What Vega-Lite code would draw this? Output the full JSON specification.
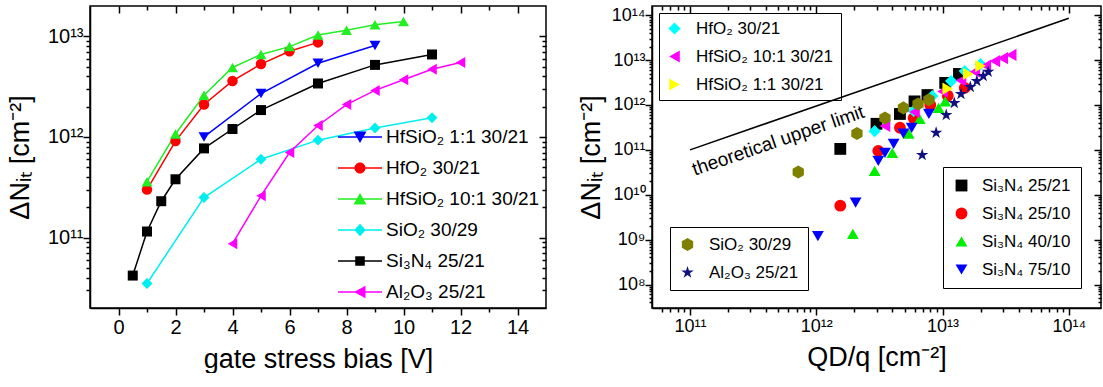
{
  "$schema": "https://vega.github.io/schema/vega-lite/v6.json",
  "background": "white",
  "padding": {"left": 5, "top": 4, "right": 2, "bottom": 0},
  "spacing": 28,
  "config": {
    "font": "Liberation Sans",
    "view": {"stroke": "black", "strokeWidth": 1.5},
    "axis": {
      "grid": false,
      "labelFont": "Liberation Sans",
      "labelColor": "black",
      "labelFontSize": 19,
      "titleFont": "Liberation Sans",
      "titleColor": "black",
      "titleFontSize": 27,
      "titleFontWeight": "normal",
      "domainColor": "black",
      "domainWidth": 1.5,
      "tickColor": "black",
      "tickWidth": 1.5
    },
    "legend": {
      "labelFont": "Liberation Sans",
      "labelColor": "black",
      "labelLimit": 400
    }
  },
  "datasets": {
    "left": [
      {"series": "HfSiO₂ 1:1 30/21", "v": 3, "n": 1.0e12},
      {"series": "HfSiO₂ 1:1 30/21", "v": 5, "n": 2.7e12},
      {"series": "HfSiO₂ 1:1 30/21", "v": 7, "n": 5.4e12},
      {"series": "HfSiO₂ 1:1 30/21", "v": 9, "n": 8.1e12},
      {"series": "HfO₂ 30/21", "v": 1, "n": 3.0e11},
      {"series": "HfO₂ 30/21", "v": 2, "n": 9.1e11},
      {"series": "HfO₂ 30/21", "v": 3, "n": 2.1e12},
      {"series": "HfO₂ 30/21", "v": 4, "n": 3.6e12},
      {"series": "HfO₂ 30/21", "v": 5, "n": 5.3e12},
      {"series": "HfO₂ 30/21", "v": 6, "n": 7.1e12},
      {"series": "HfO₂ 30/21", "v": 7, "n": 8.7e12},
      {"series": "HfSiO₂ 10:1 30/21", "v": 1, "n": 3.6e11},
      {"series": "HfSiO₂ 10:1 30/21", "v": 2, "n": 1.07e12},
      {"series": "HfSiO₂ 10:1 30/21", "v": 3, "n": 2.6e12},
      {"series": "HfSiO₂ 10:1 30/21", "v": 4, "n": 4.9e12},
      {"series": "HfSiO₂ 10:1 30/21", "v": 5, "n": 6.6e12},
      {"series": "HfSiO₂ 10:1 30/21", "v": 6, "n": 7.9e12},
      {"series": "HfSiO₂ 10:1 30/21", "v": 7, "n": 1.03e13},
      {"series": "HfSiO₂ 10:1 30/21", "v": 8, "n": 1.15e13},
      {"series": "HfSiO₂ 10:1 30/21", "v": 9, "n": 1.3e13},
      {"series": "HfSiO₂ 10:1 30/21", "v": 10, "n": 1.4e13},
      {"series": "SiO₂ 30/29", "v": 1, "n": 3.5e10},
      {"series": "SiO₂ 30/29", "v": 3, "n": 2.5e11},
      {"series": "SiO₂ 30/29", "v": 5, "n": 6.0e11},
      {"series": "SiO₂ 30/29", "v": 7, "n": 9.3e11},
      {"series": "SiO₂ 30/29", "v": 9, "n": 1.23e12},
      {"series": "SiO₂ 30/29", "v": 11, "n": 1.55e12},
      {"series": "Si₃N₄ 25/21", "v": 0.5, "n": 4.2e10},
      {"series": "Si₃N₄ 25/21", "v": 1, "n": 1.15e11},
      {"series": "Si₃N₄ 25/21", "v": 1.5, "n": 2.3e11},
      {"series": "Si₃N₄ 25/21", "v": 2, "n": 3.8e11},
      {"series": "Si₃N₄ 25/21", "v": 3, "n": 7.7e11},
      {"series": "Si₃N₄ 25/21", "v": 4, "n": 1.2e12},
      {"series": "Si₃N₄ 25/21", "v": 5, "n": 1.85e12},
      {"series": "Si₃N₄ 25/21", "v": 7, "n": 3.4e12},
      {"series": "Si₃N₄ 25/21", "v": 9, "n": 5.2e12},
      {"series": "Si₃N₄ 25/21", "v": 11, "n": 6.6e12},
      {"series": "Al₂O₃ 25/21", "v": 4, "n": 8.7e10},
      {"series": "Al₂O₃ 25/21", "v": 5, "n": 2.6e11},
      {"series": "Al₂O₃ 25/21", "v": 6, "n": 7.0e11},
      {"series": "Al₂O₃ 25/21", "v": 7, "n": 1.3e12},
      {"series": "Al₂O₃ 25/21", "v": 8, "n": 2.1e12},
      {"series": "Al₂O₃ 25/21", "v": 9, "n": 2.9e12},
      {"series": "Al₂O₃ 25/21", "v": 10, "n": 3.7e12},
      {"series": "Al₂O₃ 25/21", "v": 11, "n": 4.7e12},
      {"series": "Al₂O₃ 25/21", "v": 12, "n": 5.5e12}
    ],
    "rightA": [
      {"series": "Si₃N₄ 25/21", "q": 1.55e12, "n": 1.05e11},
      {"series": "Si₃N₄ 25/21", "q": 3.0e12, "n": 3.8e11},
      {"series": "Si₃N₄ 25/21", "q": 4.6e12, "n": 6.3e11},
      {"series": "Si₃N₄ 25/21", "q": 6.0e12, "n": 1.2e12},
      {"series": "Si₃N₄ 25/21", "q": 7.6e12, "n": 1.66e12},
      {"series": "Si₃N₄ 25/21", "q": 1.05e13, "n": 3.1e12},
      {"series": "Si₃N₄ 25/21", "q": 1.35e13, "n": 4.9e12},
      {"series": "Si₃N₄ 25/10", "q": 1.55e12, "n": 5.7e9},
      {"series": "Si₃N₄ 25/10", "q": 3.1e12, "n": 9.5e10},
      {"series": "Si₃N₄ 25/10", "q": 4.6e12, "n": 3.1e11},
      {"series": "Si₃N₄ 25/10", "q": 5.9e12, "n": 5.1e11},
      {"series": "Si₃N₄ 25/10", "q": 8.0e12, "n": 1.0e12},
      {"series": "Si₃N₄ 25/10", "q": 1.1e13, "n": 1.6e12},
      {"series": "Si₃N₄ 25/10", "q": 1.5e13, "n": 2.4e12},
      {"series": "Si₃N₄ 40/10", "q": 1.95e12, "n": 1.35e9},
      {"series": "Si₃N₄ 40/10", "q": 2.9e12, "n": 3.4e10},
      {"series": "Si₃N₄ 40/10", "q": 4.0e12, "n": 8.6e10},
      {"series": "Si₃N₄ 40/10", "q": 5.4e12, "n": 2.3e11},
      {"series": "Si₃N₄ 40/10", "q": 6.6e12, "n": 4.9e11},
      {"series": "Si₃N₄ 40/10", "q": 9.3e12, "n": 8.6e11},
      {"series": "Si₃N₄ 40/10", "q": 1.05e13, "n": 1.2e12},
      {"series": "Si₃N₄ 75/10", "q": 1.03e12, "n": 1.2e9},
      {"series": "Si₃N₄ 75/10", "q": 2.05e12, "n": 6.7e9},
      {"series": "Si₃N₄ 75/10", "q": 3.1e12, "n": 5.7e10},
      {"series": "Si₃N₄ 75/10", "q": 3.5e12, "n": 8.6e10},
      {"series": "Si₃N₄ 75/10", "q": 4.1e12, "n": 1.35e11},
      {"series": "Si₃N₄ 75/10", "q": 4.9e12, "n": 2.3e11},
      {"series": "Si₃N₄ 75/10", "q": 5.7e12, "n": 3.1e11},
      {"series": "Si₃N₄ 75/10", "q": 7.8e12, "n": 6.3e11}
    ],
    "rightB": [
      {"series": "HfO₂ 30/21", "q": 2.9e12, "n": 2.6e11},
      {"series": "HfO₂ 30/21", "q": 5.9e12, "n": 7.4e11},
      {"series": "HfO₂ 30/21", "q": 8.3e12, "n": 1.58e12},
      {"series": "HfO₂ 30/21", "q": 1.17e13, "n": 3.4e12},
      {"series": "HfO₂ 30/21", "q": 1.5e13, "n": 5.7e12},
      {"series": "HfO₂ 30/21", "q": 2.0e13, "n": 8.1e12},
      {"series": "HfSiO₂ 10:1 30/21", "q": 3.5e12, "n": 3.4e11},
      {"series": "HfSiO₂ 10:1 30/21", "q": 6.0e12, "n": 7.0e11},
      {"series": "HfSiO₂ 10:1 30/21", "q": 1.0e13, "n": 2.0e12},
      {"series": "HfSiO₂ 10:1 30/21", "q": 1.4e13, "n": 3.5e12},
      {"series": "HfSiO₂ 10:1 30/21", "q": 1.8e13, "n": 5.5e12},
      {"series": "HfSiO₂ 10:1 30/21", "q": 2.2e13, "n": 7.5e12},
      {"series": "HfSiO₂ 10:1 30/21", "q": 2.6e13, "n": 9.5e12},
      {"series": "HfSiO₂ 10:1 30/21", "q": 3.0e13, "n": 1.1e13},
      {"series": "HfSiO₂ 10:1 30/21", "q": 3.5e13, "n": 1.3e13},
      {"series": "HfSiO₂ 1:1 30/21", "q": 1.1e13, "n": 2.3e12},
      {"series": "HfSiO₂ 1:1 30/21", "q": 1.6e13, "n": 4.9e12},
      {"series": "HfSiO₂ 1:1 30/21", "q": 2.0e13, "n": 7.4e12}
    ],
    "rightC": [
      {"series": "SiO₂ 30/29", "q": 7.2e11, "n": 3.2e10},
      {"series": "SiO₂ 30/29", "q": 2.1e12, "n": 2.3e11},
      {"series": "SiO₂ 30/29", "q": 3.5e12, "n": 5.1e11},
      {"series": "SiO₂ 30/29", "q": 4.9e12, "n": 8.6e11},
      {"series": "SiO₂ 30/29", "q": 6.4e12, "n": 1.05e12},
      {"series": "SiO₂ 30/29", "q": 7.8e12, "n": 1.3e12},
      {"series": "Al₂O₃ 25/21", "q": 6.9e12, "n": 7.7e10},
      {"series": "Al₂O₃ 25/21", "q": 8.9e12, "n": 2.4e11},
      {"series": "Al₂O₃ 25/21", "q": 1.07e13, "n": 6.0e11},
      {"series": "Al₂O₃ 25/21", "q": 1.24e13, "n": 1.1e12},
      {"series": "Al₂O₃ 25/21", "q": 1.4e13, "n": 1.75e12},
      {"series": "Al₂O₃ 25/21", "q": 1.66e13, "n": 2.5e12},
      {"series": "Al₂O₃ 25/21", "q": 1.87e13, "n": 3.4e12},
      {"series": "Al₂O₃ 25/21", "q": 2.1e13, "n": 4.4e12},
      {"series": "Al₂O₃ 25/21", "q": 2.3e13, "n": 5.5e12}
    ],
    "limit": [
      {"q": 1.0e11, "n": 1.0e11},
      {"q": 1.0e14, "n": 8.5e13}
    ],
    "limitLabel": [
      {"q": 5.0e11, "n": 1.6e11, "label": "theoretical upper limit"}
    ]
  },
  "hconcat": [
    {
      "width": 456,
      "height": 302,
      "layer": [
        {
          "data": {"name": "left"},
          "mark": {"type": "line", "strokeWidth": 1.5},
          "encoding": {
            "x": {"field": "v", "type": "quantitative", "scale": {"domain": [-1, 15], "nice": false, "zero": false},
              "axis": {"orient": "bottom", "title": "gate stress bias [V]", "values": [0,1,2,3,4,5,6,7,8,9,10,11,12,13,14],
                "labelExpr": "datum.value % 2 == 0 ? datum.label : ''",
                "labelFontSize": 20, "labelPadding": 2, "titlePadding": 9,
                "tickSize": {"condition": {"test": "datum.value % 2 == 0", "value": 7}, "value": 4}}},
            "y": {"field": "n", "type": "quantitative", "scale": {"type": "log", "domain": [2e10, 2e13], "nice": false},
              "axis": {"orient": "left", "title": "ΔNᵢₜ [cm⁻²]", "labelFontSize": 20, "labelPadding": 0, "titlePadding": 13,
                "values": [3e10,4e10,5e10,6e10,7e10,8e10,9e10,1e11,2e11,3e11,4e11,5e11,6e11,7e11,8e11,9e11,1e12,2e12,3e12,4e12,5e12,6e12,7e12,8e12,9e12,1e13],
                "labelExpr": "abs(log(datum.value)/LN10 - round(log(datum.value)/LN10)) < 0.01 ? '10' + (round(log(datum.value)/LN10) >= 10 ? '¹' : '') + substring('⁰¹²³⁴⁵⁶⁷⁸⁹', round(log(datum.value)/LN10) % 10, round(log(datum.value)/LN10) % 10 + 1) : ''",
                "tickSize": {"condition": {"test": "abs(log(datum.value)/LN10 - round(log(datum.value)/LN10)) < 0.01", "value": 7}, "value": 4}}},
            "color": {"field": "series", "type": "nominal",
              "scale": {"domain": ["HfSiO₂ 1:1 30/21", "HfO₂ 30/21", "HfSiO₂ 10:1 30/21", "SiO₂ 30/29", "Si₃N₄ 25/21", "Al₂O₃ 25/21"],
                "range": ["#0000ff", "#ff0000", "#22ee22", "#00eeee", "#000000", "#ff00ff"]},
              "legend": null}
          }
        },
        {
          "data": {"name": "left"},
          "mark": {"type": "point", "opacity": 0},
          "encoding": {
            "x": {"field": "v", "type": "quantitative",
              "axis": {"orient": "top", "labels": false, "title": null, "domain": false, "offset": -7, "tickSize": 7, "values": [0,2,4,6,8,10,12,14]}},
            "y": {"field": "n", "type": "quantitative",
              "axis": {"orient": "right", "labels": false, "title": null, "domain": false, "offset": -7, "tickSize": 7, "values": [1e11,1e12,1e13]}}
          }
        },
        {
          "data": {"name": "left"},
          "mark": {"type": "point", "opacity": 0},
          "encoding": {
            "x": {"field": "v", "type": "quantitative",
              "axis": {"orient": "top", "labels": false, "title": null, "domain": false, "offset": -4, "tickSize": 4, "values": [1,3,5,7,9,11,13]}},
            "y": {"field": "n", "type": "quantitative",
              "axis": {"orient": "right", "labels": false, "title": null, "domain": false, "offset": -4, "tickSize": 4,
                "values": [3e10,4e10,5e10,6e10,7e10,8e10,9e10,2e11,3e11,4e11,5e11,6e11,7e11,8e11,9e11,2e12,3e12,4e12,5e12,6e12,7e12,8e12,9e12]}}
          }
        },
        {
          "data": {"name": "left"},
          "transform": [{"filter": "datum.series == 'HfSiO₂ 1:1 30/21'"}],
          "mark": {"type": "point", "filled": true, "opacity": 1, "size": 120, "shape": "triangle-down", "color": "#0000ff"},
          "encoding": {"x": {"field": "v", "type": "quantitative", "axis": null}, "y": {"field": "n", "type": "quantitative", "axis": null}}
        },
        {
          "data": {"name": "left"},
          "transform": [{"filter": "datum.series == 'HfO₂ 30/21'"}],
          "mark": {"type": "point", "filled": true, "opacity": 1, "size": 110, "shape": "circle", "color": "#ff0000"},
          "encoding": {"x": {"field": "v", "type": "quantitative", "axis": null}, "y": {"field": "n", "type": "quantitative", "axis": null}}
        },
        {
          "data": {"name": "left"},
          "transform": [{"filter": "datum.series == 'HfSiO₂ 10:1 30/21'"}],
          "mark": {"type": "point", "filled": true, "opacity": 1, "size": 120, "shape": "triangle-up", "color": "#22ee22"},
          "encoding": {"x": {"field": "v", "type": "quantitative", "axis": null}, "y": {"field": "n", "type": "quantitative", "axis": null}}
        },
        {
          "data": {"name": "left"},
          "transform": [{"filter": "datum.series == 'SiO₂ 30/29'"}],
          "mark": {"type": "point", "filled": true, "opacity": 1, "size": 120, "shape": "diamond", "color": "#00eeee"},
          "encoding": {"x": {"field": "v", "type": "quantitative", "axis": null}, "y": {"field": "n", "type": "quantitative", "axis": null}}
        },
        {
          "data": {"name": "left"},
          "transform": [{"filter": "datum.series == 'Si₃N₄ 25/21'"}],
          "mark": {"type": "point", "filled": true, "opacity": 1, "size": 100, "shape": "square", "color": "#000000"},
          "encoding": {"x": {"field": "v", "type": "quantitative", "axis": null}, "y": {"field": "n", "type": "quantitative", "axis": null}}
        },
        {
          "data": {"name": "left"},
          "transform": [{"filter": "datum.series == 'Al₂O₃ 25/21'"}],
          "mark": {"type": "point", "filled": true, "opacity": 1, "size": 120, "shape": "triangle-left", "color": "#ff00ff"},
          "encoding": {"x": {"field": "v", "type": "quantitative", "axis": null}, "y": {"field": "n", "type": "quantitative", "axis": null}}
        },
        {
          "data": {"name": "left"},
          "transform": [{"filter": "false"}],
          "mark": {"type": "point", "filled": true, "opacity": 1},
          "encoding": {
            "color": {"field": "series", "type": "nominal",
              "scale": {"domain": ["HfSiO₂ 1:1 30/21", "HfO₂ 30/21", "HfSiO₂ 10:1 30/21", "SiO₂ 30/29", "Si₃N₄ 25/21", "Al₂O₃ 25/21"],
                "range": ["#0000ff", "#ff0000", "#22ee22", "#00eeee", "#000000", "#ff00ff"]},
              "legend": {"title": null, "orient": "bottom-right", "offset": 6, "symbolSize": 400, "labelOffset": 15, "labelFontSize": 19, "rowPadding": 10}},
            "shape": {"field": "series", "type": "nominal",
              "scale": {"domain": ["HfSiO₂ 1:1 30/21", "HfO₂ 30/21", "HfSiO₂ 10:1 30/21", "SiO₂ 30/29", "Si₃N₄ 25/21", "Al₂O₃ 25/21"],
                "range": [
                  "M-2.2,-0.075H2.2V0.075H-2.2ZM-0.65,-0.55L0.65,-0.55L0,0.6Z",
                  "M-2.2,-0.075H2.2V0.075H-2.2ZM-0.55,0A0.55,0.55 0 1,1 0.55,0A0.55,0.55 0 1,1 -0.55,0Z",
                  "M-2.2,-0.075H2.2V0.075H-2.2ZM0,-0.6L0.65,0.55L-0.65,0.55Z",
                  "M-2.2,-0.075H2.2V0.075H-2.2ZM0,-0.62L0.58,0L0,0.62L-0.58,0Z",
                  "M-2.2,-0.075H2.2V0.075H-2.2ZM-0.48,-0.48H0.48V0.48H-0.48Z",
                  "M-2.2,-0.075H2.2V0.075H-2.2ZM-0.6,0L0.55,-0.62L0.55,0.62Z"
                ]},
              "legend": {"title": null, "orient": "bottom-right", "offset": 6, "symbolSize": 400, "labelOffset": 15, "labelFontSize": 19, "rowPadding": 10}}
          }
        }
      ],
      "resolve": {"scale": {"color": "independent", "shape": "independent"}, "axis": {"x": "independent", "y": "independent"}}
    },
    {
      "width": 449,
      "height": 302,
      "layer": [
        {
          "data": {"name": "limit"},
          "mark": {"type": "line", "color": "black", "strokeWidth": 1.5},
          "encoding": {
            "x": {"field": "q", "type": "quantitative", "scale": {"type": "log", "domain": [5e10, 1.8e14], "nice": false},
              "axis": {"orient": "bottom", "title": "QD/q [cm⁻²]", "labelFontSize": 18, "labelPadding": 2, "titlePadding": 9,
                "values": [6e10,7e10,8e10,9e10,1e11,2e11,3e11,4e11,5e11,6e11,7e11,8e11,9e11,1e12,2e12,3e12,4e12,5e12,6e12,7e12,8e12,9e12,1e13,2e13,3e13,4e13,5e13,6e13,7e13,8e13,9e13,1e14],
                "labelExpr": "abs(log(datum.value)/LN10 - round(log(datum.value)/LN10)) < 0.01 ? '10' + (round(log(datum.value)/LN10) >= 10 ? '¹' : '') + substring('⁰¹²³⁴⁵⁶⁷⁸⁹', round(log(datum.value)/LN10) % 10, round(log(datum.value)/LN10) % 10 + 1) : ''",
                "tickSize": {"condition": {"test": "abs(log(datum.value)/LN10 - round(log(datum.value)/LN10)) < 0.01", "value": 7}, "value": 4}}},
            "y": {"field": "n", "type": "quantitative", "scale": {"type": "log", "domain": [3e7, 1.6e14], "nice": false},
              "axis": {"orient": "left", "title": "ΔNᵢₜ [cm⁻²]", "labelFontSize": 18, "labelPadding": 0, "titlePadding": 6,
                "values": [4e7,5e7,6e7,7e7,8e7,9e7,1e8,2e8,3e8,4e8,5e8,6e8,7e8,8e8,9e8,1e9,2e9,3e9,4e9,5e9,6e9,7e9,8e9,9e9,1e10,2e10,3e10,4e10,5e10,6e10,7e10,8e10,9e10,1e11,2e11,3e11,4e11,5e11,6e11,7e11,8e11,9e11,1e12,2e12,3e12,4e12,5e12,6e12,7e12,8e12,9e12,1e13,2e13,3e13,4e13,5e13,6e13,7e13,8e13,9e13,1e14],
                "labelExpr": "abs(log(datum.value)/LN10 - round(log(datum.value)/LN10)) < 0.01 ? '10' + (round(log(datum.value)/LN10) >= 10 ? '¹' : '') + substring('⁰¹²³⁴⁵⁶⁷⁸⁹', round(log(datum.value)/LN10) % 10, round(log(datum.value)/LN10) % 10 + 1) : ''",
                "tickSize": {"condition": {"test": "abs(log(datum.value)/LN10 - round(log(datum.value)/LN10)) < 0.01", "value": 7}, "value": 3}}}
          }
        },
        {
          "data": {"name": "limit"},
          "mark": {"type": "point", "opacity": 0},
          "encoding": {
            "x": {"field": "q", "type": "quantitative",
              "axis": {"orient": "top", "labels": false, "title": null, "domain": false, "offset": -7, "tickSize": 7, "values": [1e11,1e12,1e13,1e14]}},
            "y": {"field": "n", "type": "quantitative",
              "axis": {"orient": "right", "labels": false, "title": null, "domain": false, "offset": -7, "tickSize": 7, "values": [1e8,1e9,1e10,1e11,1e12,1e13,1e14]}}
          }
        },
        {
          "data": {"name": "limit"},
          "mark": {"type": "point", "opacity": 0},
          "encoding": {
            "x": {"field": "q", "type": "quantitative",
              "axis": {"orient": "top", "labels": false, "title": null, "domain": false, "offset": -4, "tickSize": 4,
                "values": [6e10,7e10,8e10,9e10,2e11,3e11,4e11,5e11,6e11,7e11,8e11,9e11,2e12,3e12,4e12,5e12,6e12,7e12,8e12,9e12,2e13,3e13,4e13,5e13,6e13,7e13,8e13,9e13]}},
            "y": {"field": "n", "type": "quantitative",
              "axis": {"orient": "right", "labels": false, "title": null, "domain": false, "offset": -3, "tickSize": 3,
                "values": [4e7,5e7,6e7,7e7,8e7,9e7,2e8,3e8,4e8,5e8,6e8,7e8,8e8,9e8,2e9,3e9,4e9,5e9,6e9,7e9,8e9,9e9,2e10,3e10,4e10,5e10,6e10,7e10,8e10,9e10,2e11,3e11,4e11,5e11,6e11,7e11,8e11,9e11,2e12,3e12,4e12,5e12,6e12,7e12,8e12,9e12,2e13,3e13,4e13,5e13,6e13,7e13,8e13,9e13]}}
          }
        },
        {
          "data": {"name": "limitLabel"},
          "mark": {"type": "text", "fontSize": 19, "angle": 341, "align": "center", "baseline": "middle", "color": "black", "font": "Liberation Sans"},
          "encoding": {
            "x": {"field": "q", "type": "quantitative", "axis": null},
            "y": {"field": "n", "type": "quantitative", "axis": null},
            "text": {"field": "label"}
          }
        },
        {
          "data": {"name": "rightA"},
          "mark": {"type": "point", "filled": true, "opacity": 1, "size": 140},
          "encoding": {
            "x": {"field": "q", "type": "quantitative", "axis": null},
            "y": {"field": "n", "type": "quantitative", "axis": null},
            "color": {"field": "series", "type": "nominal",
              "scale": {"domain": ["Si₃N₄ 25/21", "Si₃N₄ 25/10", "Si₃N₄ 40/10", "Si₃N₄ 75/10"], "range": ["#000000", "#ff0000", "#00ee00", "#0000ff"]},
              "legend": {"title": null, "orient": "bottom-right", "offset": 20, "strokeColor": "black", "padding": 10, "labelFontSize": 17, "rowPadding": 10, "labelOffset": 12, "symbolSize": 140}},
            "shape": {"field": "series", "type": "nominal",
              "scale": {"domain": ["Si₃N₄ 25/21", "Si₃N₄ 25/10", "Si₃N₄ 40/10", "Si₃N₄ 75/10"], "range": ["square", "circle", "triangle-up", "triangle-down"]},
              "legend": {"title": null, "orient": "bottom-right", "offset": 20, "strokeColor": "black", "padding": 10, "labelFontSize": 17, "rowPadding": 10, "labelOffset": 12, "symbolSize": 140}}
          }
        },
        {
          "data": {"name": "rightB"},
          "mark": {"type": "point", "filled": true, "opacity": 1, "size": 150},
          "encoding": {
            "x": {"field": "q", "type": "quantitative", "axis": null},
            "y": {"field": "n", "type": "quantitative", "axis": null},
            "color": {"field": "series", "type": "nominal",
              "scale": {"domain": ["HfO₂ 30/21", "HfSiO₂ 10:1 30/21", "HfSiO₂ 1:1 30/21"], "range": ["#00ffff", "#ff00ff", "#ffff00"]},
              "legend": {"title": null, "orient": "top-left", "offset": 7, "strokeColor": "black", "padding": 7, "labelFontSize": 17, "rowPadding": 10, "labelOffset": 13, "symbolSize": 150}},
            "shape": {"field": "series", "type": "nominal",
              "scale": {"domain": ["HfO₂ 30/21", "HfSiO₂ 10:1 30/21", "HfSiO₂ 1:1 30/21"], "range": ["diamond", "triangle-left", "triangle-right"]},
              "legend": {"title": null, "orient": "top-left", "offset": 7, "strokeColor": "black", "padding": 7, "labelFontSize": 17, "rowPadding": 10, "labelOffset": 13, "symbolSize": 150}}
          }
        },
        {
          "data": {"name": "rightC"},
          "mark": {"type": "point", "filled": true, "opacity": 1, "size": 170},
          "encoding": {
            "x": {"field": "q", "type": "quantitative", "axis": null},
            "y": {"field": "n", "type": "quantitative", "axis": null},
            "color": {"field": "series", "type": "nominal",
              "scale": {"domain": ["SiO₂ 30/29", "Al₂O₃ 25/21"], "range": ["#808000", "#10107f"]},
              "legend": {"title": null, "orient": "bottom-left", "offset": 18, "strokeColor": "black", "padding": 9, "labelFontSize": 17, "rowPadding": 10, "labelOffset": 13, "symbolSize": 170}},
            "shape": {"field": "series", "type": "nominal",
              "scale": {"domain": ["SiO₂ 30/29", "Al₂O₃ 25/21"],
                "range": ["M0,-1L0.866,-0.5L0.866,0.5L0,1L-0.866,0.5L-0.866,-0.5Z",
                          "M0,-1L0.225,-0.309L0.951,-0.309L0.363,0.118L0.588,0.809L0,0.382L-0.588,0.809L-0.363,0.118L-0.951,-0.309L-0.225,-0.309Z"]},
              "legend": {"title": null, "orient": "bottom-left", "offset": 18, "strokeColor": "black", "padding": 9, "labelFontSize": 17, "rowPadding": 10, "labelOffset": 13, "symbolSize": 170}}
          }
        }
      ],
      "resolve": {"scale": {"color": "independent", "shape": "independent"}, "axis": {"x": "independent", "y": "independent"}}
    }
  ]
}
